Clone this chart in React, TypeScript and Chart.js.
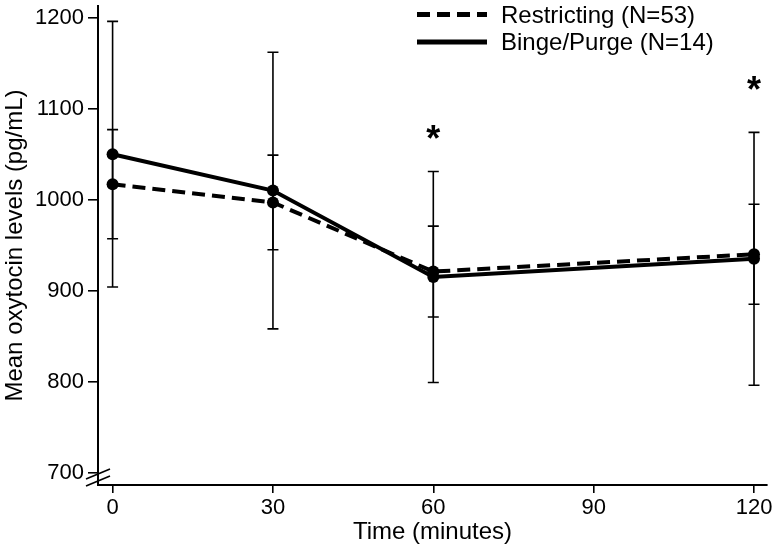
import React, { useEffect, useRef } from "react";
import { Chart, registerables } from "chart.js";

Chart.register(...registerables);

// ---- data ----
const times = [0, 30, 60, 120];
const restrictingMeans = [1017, 997, 921, 940];
const restrictingErr = [60, 52, 50, 55];
const bingeMeans = [1050, 1010, 915, 935];
const bingeErr = [146, 152, 116, 139];
const seriesLabels = ["Restricting (N=53)", "Binge/Purge (N=14)"];
const xTicks = [0, 30, 60, 90, 120];
const yTicks = [700, 800, 900, 1000, 1100, 1200];
const sigTimes = [60, 120];
const sigLevels = [1076, 1129];

const FONT = "'Liberation Sans', Arial, Helvetica, sans-serif";
const errorsBySeries = [restrictingErr, bingeErr];

const errorBarPlugin = {
  id: "errorBars",
  beforeDatasetsDraw(chart: any) {
    const { ctx } = chart;
    const xs = chart.scales.x;
    const ys = chart.scales.y;
    ctx.save();
    ctx.strokeStyle = "#000";
    ctx.lineWidth = 1.6;
    ctx.setLineDash([]);
    chart.data.datasets.forEach((ds: any, di: number) => {
      const errs = errorsBySeries[di];
      ds.data.forEach((p: any, i: number) => {
        const x = xs.getPixelForValue(p.x);
        const yt = ys.getPixelForValue(p.y + errs[i]);
        const yb = ys.getPixelForValue(p.y - errs[i]);
        ctx.beginPath();
        ctx.moveTo(x, yt);
        ctx.lineTo(x, yb);
        ctx.moveTo(x - 5.5, yt);
        ctx.lineTo(x + 5.5, yt);
        ctx.moveTo(x - 5.5, yb);
        ctx.lineTo(x + 5.5, yb);
        ctx.stroke();
      });
    });
    ctx.restore();
  },
};

const decorPlugin = {
  id: "decor",
  afterDraw(chart: any) {
    const { ctx, chartArea } = chart;
    const xs = chart.scales.x;
    const ys = chart.scales.y;
    ctx.save();
    // significance stars
    ctx.fillStyle = "#000";
    ctx.font = `bold 36px ${FONT}`;
    ctx.textAlign = "center";
    ctx.textBaseline = "alphabetic";
    sigTimes.forEach((t, i) => {
      const x = xs.getPixelForValue(t);
      const y = ys.getPixelForValue(sigLevels[i]);
      ctx.fillText("*", x, y + 20);
    });
    // axis break marks
    ctx.strokeStyle = "#000";
    ctx.lineWidth = 1.6;
    const bx = chartArea.left;
    [chartArea.bottom - 11, chartArea.bottom - 4].forEach((cy) => {
      ctx.beginPath();
      ctx.moveTo(bx - 12, cy + 5);
      ctx.lineTo(bx + 12, cy - 5);
      ctx.stroke();
    });
    // legend
    const legY = [14.5, 42];
    const baseY = [23, 50];
    chart.data.datasets.forEach((ds: any, i: number) => {
      ctx.beginPath();
      ctx.lineWidth = 5;
      ctx.setLineDash(ds.borderDash || []);
      ctx.moveTo(417, legY[i]);
      ctx.lineTo(487, legY[i]);
      ctx.stroke();
      ctx.setLineDash([]);
      ctx.font = `24px ${FONT}`;
      ctx.textAlign = "left";
      ctx.fillText(ds.label, 501, baseY[i]);
    });
    ctx.restore();
  },
};

export default function App() {
  const ref = useRef<HTMLCanvasElement | null>(null);

  useEffect(() => {
    if (!ref.current) return;
    const chart = new Chart(ref.current, {
      type: "line",
      data: {
        datasets: [
          {
            label: seriesLabels[0],
            data: times.map((t, i) => ({ x: t, y: restrictingMeans[i] })),
            borderColor: "#000",
            backgroundColor: "#000",
            borderWidth: 4,
            borderDash: [13, 7],
            pointRadius: 6,
            pointBackgroundColor: "#000",
            pointBorderWidth: 0,
            tension: 0,
          },
          {
            label: seriesLabels[1],
            data: times.map((t, i) => ({ x: t, y: bingeMeans[i] })),
            borderColor: "#000",
            backgroundColor: "#000",
            borderWidth: 4,
            pointRadius: 6,
            pointBackgroundColor: "#000",
            pointBorderWidth: 0,
            tension: 0,
          },
        ],
      },
      options: {
        responsive: false,
        animation: false,
        layout: { padding: { left: 0, right: 5, top: 5, bottom: 0 } },
        plugins: {
          legend: { display: false },
          tooltip: { enabled: false },
        },
        scales: {
          x: {
            type: "linear",
            min: -2.73,
            max: 122.43,
            afterBuildTicks: (s: any) => {
              s.ticks = xTicks.map((v) => ({ value: v }));
            },
            afterFit: (s: any) => {
              s.height = 64;
              s.paddingLeft = 0;
              s.paddingRight = 0;
            },
            grid: {
              display: true,
              drawOnChartArea: false,
              drawTicks: true,
              tickLength: 8,
              color: "#000",
              lineWidth: 1.6,
            },
            border: { display: true, color: "#000", width: 2 },
            ticks: {
              color: "#000",
              font: { family: FONT, size: 22 },
              padding: 2,
              maxRotation: 0,
              autoSkip: false,
              callback: (v: any) => String(v),
            },
            title: {
              display: true,
              text: "Time (minutes)",
              color: "#000",
              font: { family: FONT, size: 24 },
              padding: { top: 0, bottom: 2 },
            },
          },
          y: {
            type: "linear",
            min: 686.4,
            max: 1212.9,
            afterBuildTicks: (s: any) => {
              s.ticks = yTicks.map((v) => ({ value: v }));
            },
            afterFit: (s: any) => {
              s.width = 98;
              s.paddingTop = 0;
              s.paddingBottom = 0;
            },
            grid: {
              display: true,
              drawOnChartArea: false,
              drawTicks: true,
              tickLength: 10,
              color: "#000",
              lineWidth: 1.6,
            },
            border: { display: true, color: "#000", width: 2 },
            ticks: {
              color: "#000",
              font: { family: FONT, size: 22 },
              padding: 4,
              autoSkip: false,
              callback: (v: any) => String(v),
            },
            title: {
              display: true,
              text: "Mean oxytocin levels (pg/mL)",
              color: "#000",
              font: { family: FONT, size: 24 },
              padding: { top: 1, bottom: 0 },
            },
          },
        },
      },
      plugins: [errorBarPlugin, decorPlugin],
    } as any);
    return () => chart.destroy();
  }, []);

  return (
    <div style={{ position: "fixed", left: 0, top: 0, width: 773, height: 549, background: "#fff" }}>
      <canvas ref={ref} width={773} height={549} />
    </div>
  );
}
